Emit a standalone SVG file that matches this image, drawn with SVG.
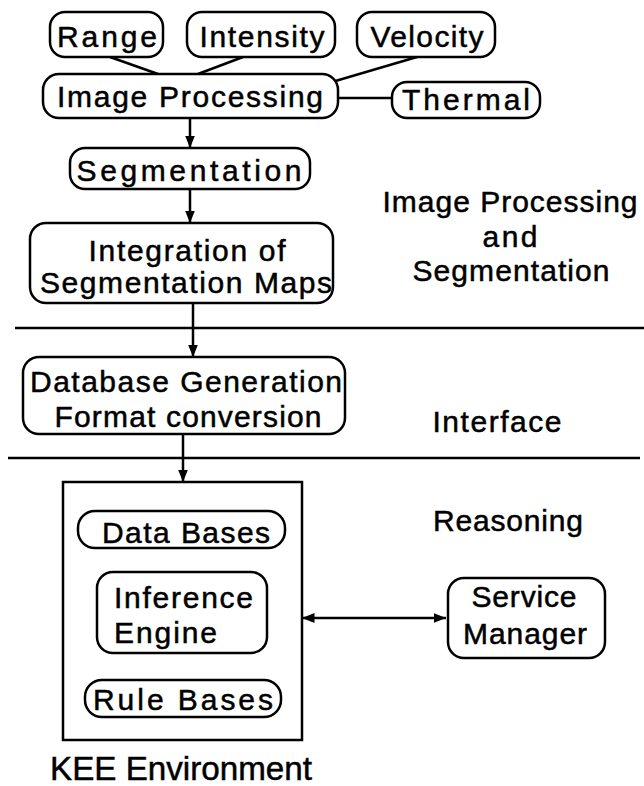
<svg xmlns="http://www.w3.org/2000/svg" width="644" height="786" viewBox="0 0 644 786">
<style>
.n{fill:#fff;stroke:#000;stroke-width:2.5}
.t{font-family:"Liberation Sans",Arial,sans-serif;font-size:30px;fill:#000;stroke:#000;stroke-width:0.5;text-anchor:middle}
.l{fill:none;stroke:#000;stroke-width:2.5}
</style>
<defs>
<marker id="ah" viewBox="0 0 10 10" refX="10" refY="5" markerWidth="5" markerHeight="5" orient="auto-start-reverse" markerUnits="strokeWidth">
<path d="M0,1 L10,5 L0,9 z" fill="#000"/>
</marker>
</defs>
<rect width="644" height="786" fill="#fff"/>
<g id="connectors">
<line class="l" x1="110" y1="57" x2="158" y2="74"/>
<line class="l" x1="243" y1="57" x2="198" y2="74"/>
<line class="l" x1="417" y1="57" x2="332" y2="82"/>
<line class="l" x1="338" y1="98" x2="392" y2="98"/>
<line class="l" x1="190" y1="118" x2="190" y2="148" marker-end="url(#ah)"/>
<line class="l" x1="190" y1="189" x2="190" y2="223" marker-end="url(#ah)"/>
<line class="l" x1="193" y1="303" x2="193" y2="357" marker-end="url(#ah)"/>
<line class="l" x1="183" y1="434" x2="183" y2="482" marker-end="url(#ah)"/>
<line class="l" x1="302" y1="618" x2="446" y2="618" marker-start="url(#ah)" marker-end="url(#ah)"/>
</g>
<g id="dividers">
<line class="l" x1="15" y1="328" x2="644" y2="328"/>
<line class="l" x1="8" y1="458" x2="640" y2="458"/>
</g>
<g id="range"><rect class="n" x="50" y="12" width="113" height="45" rx="15"/><text class="t" x="107" y="47" textLength="100" lengthAdjust="spacing">Range</text></g>
<g id="intensity"><rect class="n" x="187" y="12" width="148" height="45" rx="15"/><text class="t" x="262" y="47" textLength="125" lengthAdjust="spacing">Intensity</text></g>
<g id="velocity"><rect class="n" x="357" y="12" width="138" height="45" rx="15"/><text class="t" x="427" y="47" textLength="113" lengthAdjust="spacing">Velocity</text></g>
<g id="image-processing"><rect class="n" x="43" y="74" width="295" height="44" rx="16"/><text class="t" x="190" y="107" textLength="266" lengthAdjust="spacing">Image Processing</text></g>
<g id="thermal"><rect class="n" x="392" y="82" width="148" height="36" rx="15"/><text class="t" x="466" y="110" textLength="128" lengthAdjust="spacing">Thermal</text></g>
<g id="segmentation"><rect class="n" x="70" y="148" width="240" height="41" rx="15"/><text class="t" x="189" y="181" textLength="225" lengthAdjust="spacing">Segmentation</text></g>
<g id="integration"><rect class="n" x="30" y="223" width="303" height="80" rx="16"/><text class="t" x="187" y="261" textLength="197" lengthAdjust="spacing">Integration of</text><text class="t" x="186" y="293" textLength="292" lengthAdjust="spacing">Segmentation Maps</text></g>
<g id="database-generation"><rect class="n" x="23" y="357" width="322" height="77" rx="16"/><text class="t" x="186" y="392" textLength="312" lengthAdjust="spacing">Database Generation</text><text class="t" x="188" y="427" textLength="267" lengthAdjust="spacing">Format conversion</text></g>
<g id="kee-environment"><rect class="n" x="63" y="482" width="239" height="258" fill="none"/><text class="t" x="181" y="780" textLength="262" lengthAdjust="spacingAndGlyphs" style="font-size:34px">KEE Environment</text></g>
<g id="data-bases"><rect class="n" x="78" y="511" width="207" height="37" rx="17"/><text class="t" x="186" y="543" textLength="168" lengthAdjust="spacing">Data Bases</text></g>
<g id="inference-engine"><rect class="n" x="97" y="572" width="170" height="81" rx="16"/><text class="t" x="114" y="608" textLength="139" lengthAdjust="spacing" style="text-anchor:start">Inference</text><text class="t" x="114" y="643" textLength="103" lengthAdjust="spacing" style="text-anchor:start">Engine</text></g>
<g id="rule-bases"><rect class="n" x="85" y="680" width="196" height="37" rx="17"/><text class="t" x="183" y="710" textLength="180" lengthAdjust="spacing">Rule Bases</text></g>
<g id="service-manager"><rect class="n" x="448" y="578" width="157" height="80" rx="16"/><text class="t" x="524" y="607" textLength="105" lengthAdjust="spacing">Service</text><text class="t" x="525" y="644" textLength="124" lengthAdjust="spacing">Manager</text></g>
<g id="labels">
<text class="t" x="510" y="212" textLength="255" lengthAdjust="spacing">Image Processing</text>
<text class="t" x="510" y="247" textLength="55" lengthAdjust="spacing">and</text>
<text class="t" x="511" y="281" textLength="197" lengthAdjust="spacing">Segmentation</text>
<text class="t" x="497" y="432" textLength="129" lengthAdjust="spacing">Interface</text>
<text class="t" x="508" y="531" textLength="150" lengthAdjust="spacing">Reasoning</text>
</g>
</svg>
